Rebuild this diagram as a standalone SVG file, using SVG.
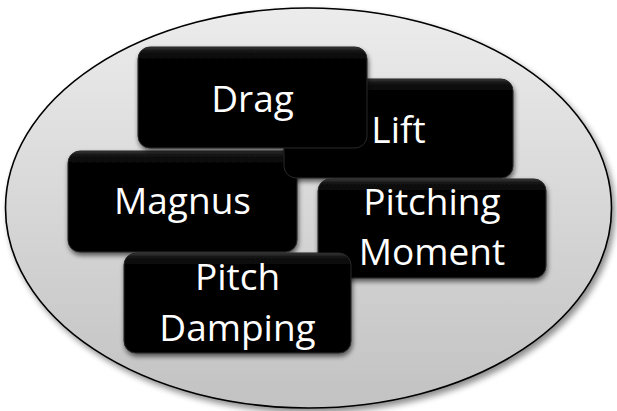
<svg xmlns="http://www.w3.org/2000/svg" width="617" height="411" viewBox="0 0 617 411">
  <defs>
    <linearGradient id="bg" x1="0" y1="0" x2="0" y2="1">
      <stop offset="0" stop-color="#ececec"/>
      <stop offset="1" stop-color="#c2c2c2"/>
    </linearGradient>
    <linearGradient id="boxFill" x1="0" y1="0" x2="0" y2="1">
      <stop offset="0" stop-color="#3a3a3a"/>
      <stop offset="0.04" stop-color="#141414"/>
      <stop offset="0.12" stop-color="#050505"/>
      <stop offset="1" stop-color="#030303"/>
    </linearGradient>
    <filter id="outerShadow" x="-10%" y="-10%" width="120%" height="125%">
      <feGaussianBlur in="SourceAlpha" stdDeviation="3"/>
      <feOffset dx="3" dy="4" result="b"/>
      <feComponentTransfer><feFuncA type="linear" slope="0.45"/></feComponentTransfer>
      <feMerge><feMergeNode/><feMergeNode in="SourceGraphic"/></feMerge>
    </filter>
    <filter id="boxShadow" x="-10%" y="-10%" width="120%" height="130%">
      <feGaussianBlur in="SourceAlpha" stdDeviation="2.5"/>
      <feOffset dx="1" dy="3" result="b"/>
      <feComponentTransfer><feFuncA type="linear" slope="0.6"/></feComponentTransfer>
      <feMerge><feMergeNode/><feMergeNode in="SourceGraphic"/></feMerge>
    </filter>
  </defs>
  <style>
    .box { fill: url(#boxFill); stroke: #262626; stroke-width: 1; filter: url(#boxShadow); }
    .label { fill: #ffffff; font-family: "Open Sans", "Liberation Sans", sans-serif; font-size: 37px; text-anchor: middle; }
  </style>

  <!-- enclosing ellipse -->
  <g id="frame">
    <ellipse cx="308.5" cy="208" rx="303" ry="200" fill="url(#bg)" stroke="#000" stroke-width="1.6" filter="url(#outerShadow)"/>
  </g>

  <g id="magnus">
    <rect class="box" x="68" y="151" width="229" height="101" rx="12"/>
    <text class="label" x="182.5" y="214">Magnus</text>
  </g>

  <g id="lift">
    <rect class="box" x="284" y="79" width="229" height="99" rx="12"/>
    <text class="label" x="398.5" y="143">Lift</text>
  </g>

  <g id="drag">
    <rect class="box" x="138" y="47" width="229" height="101" rx="12"/>
    <text class="label" x="252.5" y="112">Drag</text>
  </g>

  <g id="pitching-moment">
    <rect class="box" x="318" y="179" width="228" height="99" rx="12"/>
    <text class="label" x="432" y="215">Pitching</text>
    <text class="label" x="432" y="265">Moment</text>
  </g>

  <g id="pitch-damping">
    <rect class="box" x="124" y="253" width="227" height="100" rx="12"/>
    <text class="label" x="237.5" y="290">Pitch</text>
    <text class="label" x="237.5" y="341">Damping</text>
  </g>

  <g id="connectors"/>
</svg>
